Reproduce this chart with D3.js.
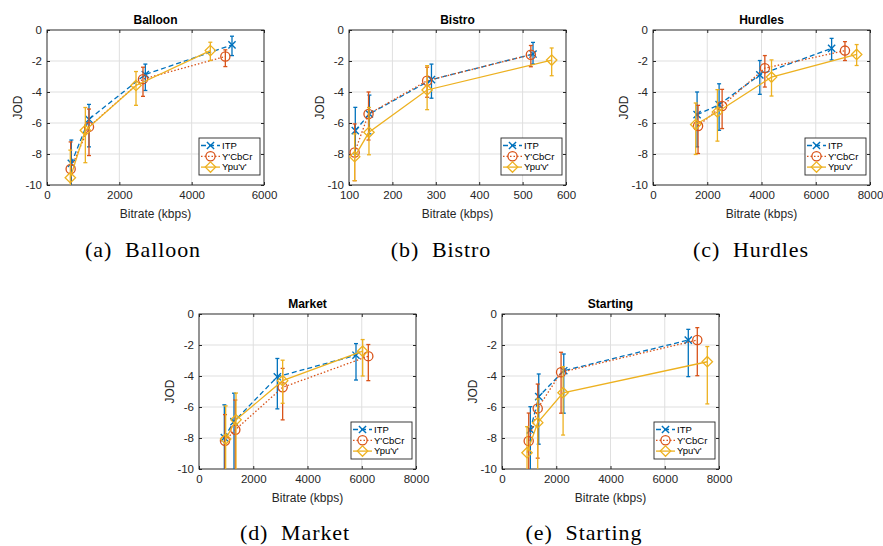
<!DOCTYPE html>
<html><head><meta charset="utf-8">
<script src="https://cdn.jsdelivr.net/npm/d3@7"></script>
<style>body{margin:0;background:#fff}svg{display:block}</style>
</head><body>
<svg id="c" width="883" height="546"></svg>
<script>
// ---------- DATA ----------
const panelNames = ["Balloon", "Bistro", "Hurdles", "Market", "Starting"];
const captions = ["(a)  Balloon", "(b)  Bistro", "(c)  Hurdles", "(d)  Market", "(e)  Starting"];
const seriesNames = ["ITP", "Y'CbCr", "Ypu'v'"];
const yTicks = [0, -2, -4, -6, -8, -10];
const balloonXTicks = [0, 2000, 4000, 6000];
const bistroXTicks = [100, 200, 300, 400, 500, 600];
const hurdlesXTicks = [0, 2000, 4000, 6000, 8000];
const marketXTicks = [0, 2000, 4000, 6000, 8000];
const startingXTicks = [0, 2000, 4000, 6000, 8000];

// Balloon
const balloonITP_x = [673, 1161, 2719, 5115];
const balloonITP_y = [-8.6, -5.76, -2.87, -0.96];
const balloonITP_lo = [-11.0, -7.54, -3.9, -1.65];
const balloonITP_hi = [-7.1, -4.8, -2.2, -0.4];
const balloonYCC_x = [654, 1161, 2654, 4931];
const balloonYCC_y = [-8.97, -6.25, -3.17, -1.71];
const balloonYCC_lo = [-11.0, -8.1, -4.28, -2.36];
const balloonYCC_hi = [-7.22, -5.1, -2.4, -1.28];
const balloonYUV_x = [645, 1060, 2461, 4516];
const balloonYUV_y = [-9.53, -6.47, -3.58, -1.33];
const balloonYUV_lo = [-11.1, -8.56, -4.86, -1.97];
const balloonYUV_hi = [-7.75, -5.0, -2.68, -0.79];

// Bistro
const bistroITP_x = [114.5, 147, 290, 524];
const bistroITP_y = [-6.49, -5.42, -3.2, -1.55];
const bistroITP_lo = [-8.0, -6.7, -4.4, -2.2];
const bistroITP_hi = [-4.99, -4.2, -2.2, -0.8];
const bistroYCC_x = [113, 145, 280, 519];
const bistroYCC_y = [-7.9, -5.42, -3.27, -1.6];
const bistroYCC_lo = [-9.72, -7.1, -4.34, -2.37];
const bistroYCC_hi = [-6.06, -4.0, -2.4, -1.0];
const bistroYUV_x = [113, 146, 280, 567];
const bistroYUV_y = [-8.17, -6.6, -3.87, -1.94];
const bistroYUV_lo = [-9.72, -8.05, -5.14, -2.95];
const bistroYUV_hi = [-6.7, -5.0, -2.3, -1.16];

// Hurdles
const hurdlesITP_x = [1625, 2437, 3938, 6585];
const hurdlesITP_y = [-5.46, -4.82, -2.89, -1.18];
const hurdlesITP_lo = [-7.54, -6.47, -4.15, -1.93];
const hurdlesITP_hi = [-4.0, -3.47, -1.97, -0.54];
const hurdlesYCC_x = [1661, 2548, 4123, 7077];
const hurdlesYCC_y = [-6.19, -4.9, -2.46, -1.33];
const hurdlesYCC_lo = [-7.97, -6.36, -3.68, -1.97];
const hurdlesYCC_hi = [-4.86, -3.83, -1.65, -0.75];
const hurdlesYUV_x = [1575, 2375, 4369, 7508];
const hurdlesYUV_y = [-6.1, -5.29, -3.04, -1.58];
const hurdlesYUV_lo = [-8.03, -7.17, -4.26, -2.29];
const hurdlesYUV_hi = [-4.71, -3.85, -1.93, -0.94];

// Market
const marketITP_x = [934, 1290, 2888, 5788];
const marketITP_y = [-7.97, -6.94, -4.05, -2.66];
const marketITP_lo = [-10.5, -10.5, -6.12, -4.26];
const marketITP_hi = [-5.86, -5.11, -2.87, -1.91];
const marketYCC_x = [958, 1339, 3084, 6242];
const marketYCC_y = [-8.18, -7.47, -4.73, -2.72];
const marketYCC_lo = [-10.5, -10.5, -6.83, -4.3];
const marketYCC_hi = [-6.49, -5.55, -3.51, -1.97];
const marketYUV_x = [983, 1364, 3084, 6034];
const marketYUV_y = [-8.07, -6.83, -4.3, -2.4];
const marketYUV_lo = [-10.5, -10.5, -5.76, -4.0];
const marketYUV_hi = [-5.93, -5.1, -2.98, -1.65];

// Starting
const startingITP_x = [1046, 1354, 2277, 6868];
const startingITP_y = [-7.48, -5.33, -3.66, -1.68];
const startingITP_lo = [-10.5, -8.4, -6.4, -4.04];
const startingITP_hi = [-5.98, -3.87, -2.58, -0.99];
const startingYCC_x = [985, 1317, 2178, 7200];
const startingYCC_y = [-8.19, -6.09, -3.76, -1.68];
const startingYCC_lo = [-10.5, -9.3, -6.4, -3.98];
const startingYCC_hi = [-6.39, -4.52, -2.47, -0.88];
const startingYUV_x = [923, 1317, 2252, 7569];
const startingYUV_y = [-8.95, -7.01, -5.08, -3.08];
const startingYUV_lo = [-10.6, -10.5, -7.81, -5.8];
const startingYUV_hi = [-7.27, -5.48, -3.4, -2.1];

// ---------- BUILD ----------
const panelXTicks = [balloonXTicks, bistroXTicks, hurdlesXTicks, marketXTicks, startingXTicks];
const panelSeries = [
  [[balloonITP_x, balloonITP_y, balloonITP_lo, balloonITP_hi], [balloonYCC_x, balloonYCC_y, balloonYCC_lo, balloonYCC_hi], [balloonYUV_x, balloonYUV_y, balloonYUV_lo, balloonYUV_hi]],
  [[bistroITP_x, bistroITP_y, bistroITP_lo, bistroITP_hi], [bistroYCC_x, bistroYCC_y, bistroYCC_lo, bistroYCC_hi], [bistroYUV_x, bistroYUV_y, bistroYUV_lo, bistroYUV_hi]],
  [[hurdlesITP_x, hurdlesITP_y, hurdlesITP_lo, hurdlesITP_hi], [hurdlesYCC_x, hurdlesYCC_y, hurdlesYCC_lo, hurdlesYCC_hi], [hurdlesYUV_x, hurdlesYUV_y, hurdlesYUV_lo, hurdlesYUV_hi]],
  [[marketITP_x, marketITP_y, marketITP_lo, marketITP_hi], [marketYCC_x, marketYCC_y, marketYCC_lo, marketYCC_hi], [marketYUV_x, marketYUV_y, marketYUV_lo, marketYUV_hi]],
  [[startingITP_x, startingITP_y, startingITP_lo, startingITP_hi], [startingYCC_x, startingYCC_y, startingYCC_lo, startingYCC_hi], [startingYUV_x, startingYUV_y, startingYUV_lo, startingYUV_hi]]
];

// layout
const PW = 217, PH = 155;
const panelPos = [[47, 30], [349, 30], [653, 30], [199, 314], [502, 314]];
const captionPos = [[143, 257], [441, 257], [751, 257], [295, 540], [584, 540]];
const colors = ["#0072BD", "#D95319", "#EDB120"];
const dashes = ["5,3", "1.5,2", null];
const axisColor = "#262626";
const font = "Arial, 'Liberation Sans', Helvetica, sans-serif";

const svg = d3.select("#c");

function drawMarker(g, k, cx, cy, color) {
  if (k === 0) {
    const s = 3.6;
    g.append("path").attr("d", `M${cx - s},${cy - s}L${cx + s},${cy + s}M${cx - s},${cy + s}L${cx + s},${cy - s}`)
      .attr("stroke", color).attr("stroke-width", 1.4).attr("fill", "none");
  } else if (k === 1) {
    g.append("circle").attr("cx", cx).attr("cy", cy).attr("r", 4.6)
      .attr("stroke", color).attr("stroke-width", 1.3).attr("fill", "none");
  } else {
    const s = 5.2;
    g.append("path").attr("d", `M${cx},${cy - s}L${cx + s},${cy}L${cx},${cy + s}L${cx - s},${cy}Z`)
      .attr("stroke", color).attr("stroke-width", 1.3).attr("fill", "none");
  }
}

panelNames.forEach((name, pi) => {
  const [px, py] = panelPos[pi];
  const xt = panelXTicks[pi];
  const x = d3.scaleLinear().domain([xt[0], xt[xt.length - 1]]).range([0, PW]);
  const y = d3.scaleLinear().domain([-10, 0]).range([PH, 0]);
  const g = svg.append("g").attr("transform", `translate(${px},${py})`);

  // grid
  const grid = g.append("g");
  xt.forEach(v => grid.append("line").attr("x1", x(v)).attr("x2", x(v)).attr("y1", 0).attr("y2", PH)
    .attr("stroke", "#dfdfdf").attr("stroke-width", 1));
  yTicks.forEach(v => grid.append("line").attr("x1", 0).attr("x2", PW).attr("y1", y(v)).attr("y2", y(v))
    .attr("stroke", "#dfdfdf").attr("stroke-width", 1));

  // axes
  const xa = g.append("g").attr("transform", `translate(0,${PH})`)
    .call(d3.axisBottom(x).tickValues(xt).tickSizeInner(-3).tickSizeOuter(0).tickPadding(6).tickFormat(d3.format("d")));
  const xTop = g.append("g").call(d3.axisTop(x).tickValues(xt).tickSizeInner(-3).tickSizeOuter(0).tickFormat(""));
  const ya = g.append("g")
    .call(d3.axisLeft(y).tickValues(yTicks).tickSizeInner(-3).tickSizeOuter(0).tickPadding(5).tickFormat(d => d === 0 ? "0" : "-" + Math.abs(d)));
  const yR = g.append("g").attr("transform", `translate(${PW},0)`)
    .call(d3.axisRight(y).tickValues(yTicks).tickSizeInner(-3).tickSizeOuter(0).tickFormat(""));
  [xa, xTop, ya, yR].forEach(a => {
    a.selectAll("path").remove();
    a.selectAll("line").attr("stroke", axisColor);
    a.selectAll("text").attr("fill", axisColor).style("font-family", font).style("font-size", "11.5px");
  });
  g.append("rect").attr("x", 0).attr("y", 0).attr("width", PW).attr("height", PH)
    .attr("fill", "none").attr("stroke", axisColor).attr("stroke-width", 0.9);

  // clip
  const clipId = "clip" + pi;
  g.append("clipPath").attr("id", clipId).append("rect").attr("x", 0).attr("y", 0).attr("width", PW).attr("height", PH);
  const plot = g.append("g").attr("clip-path", `url(#${clipId})`);

  panelSeries[pi].forEach((s, k) => {
    const [xs, ys, lo, hi] = s;
    const pts = xs.map((v, i) => ({x: v, y: ys[i], lo: lo[i], hi: hi[i]}));
    const line = d3.line().x(d => x(d.x)).y(d => y(d.y));
    plot.append("path").datum(pts).attr("d", line).attr("fill", "none")
      .attr("stroke", colors[k]).attr("stroke-width", 1.3)
      .attr("stroke-dasharray", dashes[k]);
    pts.forEach(d => {
      const cx = x(d.x);
      plot.append("line").attr("x1", cx).attr("x2", cx).attr("y1", y(d.lo)).attr("y2", y(d.hi))
        .attr("stroke", colors[k]).attr("stroke-width", 1.3);
      [d.lo, d.hi].forEach(v => plot.append("line").attr("x1", cx - 2).attr("x2", cx + 2)
        .attr("y1", y(v)).attr("y2", y(v)).attr("stroke", colors[k]).attr("stroke-width", 1.3));
      drawMarker(plot, k, cx, y(d.y), colors[k]);
    });
  });

  // legend
  const lw = 61, lh = 37;
  const lg = g.append("g").attr("transform", `translate(${PW - lw - 4},${PH - lh - 10})`);
  lg.append("rect").attr("width", lw).attr("height", lh).attr("fill", "#fff")
    .attr("stroke", axisColor).attr("stroke-width", 0.9);
  seriesNames.forEach((sn, k) => {
    const ly = 7.5 + k * 10.8;
    lg.append("line").attr("x1", 2).attr("x2", 21).attr("y1", ly).attr("y2", ly)
      .attr("stroke", colors[k]).attr("stroke-width", 1.3).attr("stroke-dasharray", dashes[k]);
    drawMarker(lg, k, 11.5, ly, colors[k]);
    lg.append("text").attr("x", 23).attr("y", ly).attr("dy", "0.35em").text(sn)
      .attr("fill", "#000").style("font-family", font).style("font-size", "9.5px");
  });

  // title & labels
  g.append("text").attr("x", PW / 2).attr("y", -6).attr("text-anchor", "middle").text(name)
    .attr("fill", "#000").style("font-family", font).style("font-size", "12px").style("font-weight", "bold");
  g.append("text").attr("x", PW / 2).attr("y", PH + 33).attr("text-anchor", "middle").text("Bitrate (kbps)")
    .attr("fill", axisColor).style("font-family", font).style("font-size", "12px");
  g.append("text").attr("transform", `translate(-25,${PH / 2}) rotate(-90)`).attr("text-anchor", "middle").text("JOD")
    .attr("fill", axisColor).style("font-family", font).style("font-size", "12px");

  // caption
  svg.append("text").attr("x", captionPos[pi][0]).attr("y", captionPos[pi][1]).attr("text-anchor", "middle")
    .text(captions[pi]).attr("fill", "#000")
    .style("font-family", "'Liberation Serif', 'DejaVu Serif', serif").style("font-size", "22px")
    .style("letter-spacing", "0.9px")
    .style("white-space", "pre").attr("xml:space", "preserve");
});
</script>
</body></html>
